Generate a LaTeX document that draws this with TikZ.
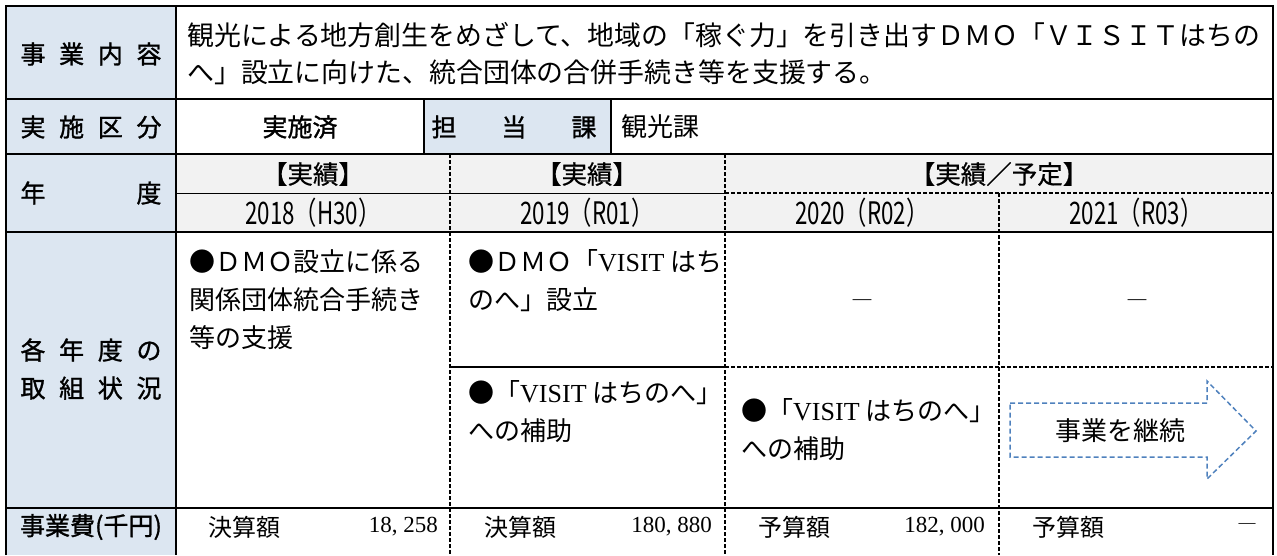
\documentclass[tikz,border=0pt]{standalone}
\usepackage{fontspec}
\setmainfont{Noto Sans CJK JP}
\newfontfamily\gb[FakeBold=1.2]{Noto Sans CJK JP}
\newfontfamily\gm[FakeBold=0.6]{Noto Sans CJK JP}
\newfontfamily\lat{Liberation Serif}
\newfontfamily\cond[FakeStretch=0.72]{Noto Sans CJK JP}
\definecolor{lblue}{RGB}{220,230,241}
\definecolor{hgray}{RGB}{242,242,242}
\definecolor{arrblue}{RGB}{79,129,189}
\newcommand\spreadbox[2]{\hbox to #1{#2}}
\begin{document}
\begin{tikzpicture}[x=1pt,y=-1pt,
  tl/.style={line width=2.2pt},
  dl/.style={line width=1.8pt, dash pattern=on 4pt off 2pt},
  thinl/.style={line width=1pt},
  thindl/.style={line width=1.2pt, dash pattern=on 4pt off 2pt},
  lbl/.style={font=\gb\fontsize{25}{38}\selectfont, inner sep=0pt, align=center},
  hdr/.style={font=\gm\fontsize{25.5}{28}\selectfont, inner sep=0pt},
  yr/.style={font=\cond\fontsize{31}{34}\selectfont, inner sep=0pt},
  body/.style={font=\fontsize{26}{38}\selectfont, inner sep=0pt, align=left, anchor=north west},
  amt/.style={font=\fontsize{24}{28}\selectfont, inner sep=0pt},
  num/.style={font=\lat\fontsize{23}{28}\selectfont, inner sep=0pt, anchor=east},
  arrowbox/.style={draw=arrblue, line width=1.5pt, dash pattern=on 5pt off 3pt, line join=miter}
]
\useasboundingbox (0,0) rectangle (1277,555);
% fills
\fill[lblue] (6,6) rectangle (176,555);
\fill[lblue] (424,99) rectangle (611,154);
\fill[hgray] (176,154) rectangle (1273,232);
% grid lines
\draw[thinl] (176,193) -- (725,193);
\draw[thindl] (725,193) -- (1273,193);
\draw[dl] (725,367) -- (1273,367);
\draw[dl] (450,154) -- (450,555);
\draw[dl] (725,154) -- (725,555);
\draw[dl] (999,193) -- (999,555);
\draw[tl] (450,367) -- (725,367);
\draw[tl] (6,99) -- (1273,99);
\draw[tl] (6,154) -- (1273,154);
\draw[tl] (6,232) -- (1273,232);
\draw[tl] (6,508) -- (1273,508);
\draw[tl] (424,99) -- (424,154);
\draw[tl] (611,99) -- (611,154);
\draw[tl] (176,6) -- (176,555);
\draw[tl] (6,555) -- (6,6) -- (1273,6) -- (1273,555);
% labels
\node[lbl] (l1) at (91,54) {\spreadbox{141pt}{事\hfil 業\hfil 内\hfil 容}};
\node[lbl] (l2) at (91,127) {\spreadbox{141pt}{実\hfil 施\hfil 区\hfil 分}};
\node[lbl] (l3) at (91,193) {\spreadbox{141pt}{年\hfil 度}};
\node[lbl] (l4) at (91,369) {\spreadbox{141pt}{各\hfil 年\hfil 度\hfil の}\\\spreadbox{141pt}{取\hfil 組\hfil 状\hfil 況}};
\node[lbl] (l5) at (91,527) {事業費(千円)};
\node[lbl] (l6) at (514,127) {\spreadbox{165pt}{担\hfil 当\hfil 課}};
% row 1
\node[body, font=\fontsize{26.9}{37}\selectfont] (desc) at (187,22) {観光による地方創生をめざして、地域の「稼ぐ力」を引き出すＤＭＯ「ＶＩＳＩＴはちの\\へ」設立に向けた、統合団体の合併手続き等を支援する。};
% row 2
\node[lbl] (impl) at (300,127) {実施済};
\node[inner sep=0pt, anchor=west, font=\fontsize{26}{30}\selectfont] (dept) at (621,127) {観光課};
% header
\node[hdr] (h1) at (313,174) {【実績】};
\node[hdr] (h2) at (587,174) {【実績】};
\node[hdr] (h3) at (999,174) {【実績／予定】};
\node[yr] (y1) at (313,213) {2018（H30）};
\node[yr] (y2) at (587,213) {2019（R01）};
\node[yr] (y3) at (862,213) {2020（R02）};
\node[yr] (y4) at (1136,213) {2021（R03）};
% body
\node[body] (b1) at (189,249) {●ＤＭＯ設立に係る\\関係団体統合手続き\\等の支援};
\node[body] (b2) at (468,249) {●ＤＭＯ「{\lat VISIT} はち\\のへ」設立};
\node[body] (b3) at (468,380) {●「{\lat VISIT} はちのへ」\\への補助};
\node[body] (b4) at (741,398) {●「{\lat VISIT} はちのへ」\\への補助};
\node[inner sep=0pt, font=\fontsize{22}{26}\selectfont] (d1) at (862,304) {―};
\node[inner sep=0pt, font=\fontsize{22}{26}\selectfont] (d2) at (1137,304) {―};
% arrow
\draw[arrowbox] (1010,403) -- (1207,403) -- (1207,381) -- (1256,431) -- (1207,479) -- (1207,457) -- (1010,457) -- cycle;
\node[inner sep=0pt, font=\fontsize{26}{30}\selectfont] (cont) at (1120,431) {事業を継続};
% costs
\node[amt, anchor=west] (k1) at (208,527) {決算額};
\node[num] (n1) at (438,527) {18, 258};
\node[amt, anchor=west] (k2) at (484,527) {決算額};
\node[num] (n2) at (712,527) {180, 880};
\node[amt, anchor=west] (k3) at (758,527) {予算額};
\node[num] (n3) at (985,527) {182, 000};
\node[amt, anchor=west] (k4) at (1032,527) {予算額};
\node[inner sep=0pt, anchor=east, font=\fontsize{20}{24}\selectfont] (n4) at (1258,527) {―};
\end{tikzpicture}
\end{document}
